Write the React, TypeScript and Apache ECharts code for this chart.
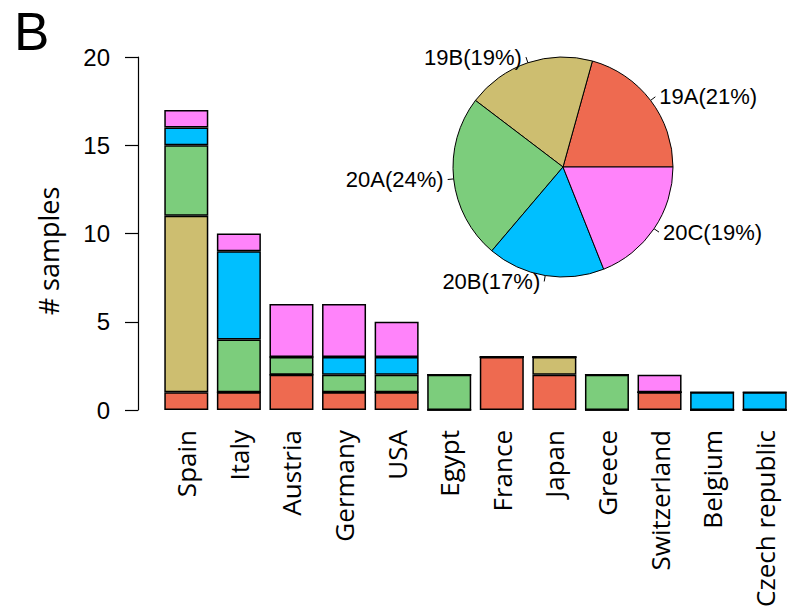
import React, { useEffect, useRef } from "react";
import * as echarts from "echarts";

const countries = [
  "Spain", "Italy", "Austria", "Germany", "USA", "Egypt",
  "France", "Japan", "Greece", "Switzerland", "Belgium", "Czech republic",
];

const clades = ["19A", "19B", "20A", "20B", "20C"];
const cladeColors = ["#EE6A50", "#CDBE70", "#7CCD7C", "#00BFFF", "#FF83FA"];

// samples per country, one array per clade (stacked bottom to top)
const s19A = [1, 1, 2, 1, 1, 0, 3, 2, 0, 1, 0, 0];
const s19B = [10, 0, 0, 0, 0, 0, 0, 1, 0, 0, 0, 0];
const s20A = [4, 3, 1, 1, 1, 2, 0, 0, 2, 0, 0, 0];
const s20B = [1, 5, 0, 1, 1, 0, 0, 0, 0, 0, 1, 1];
const s20C = [1, 1, 3, 3, 2, 0, 0, 0, 0, 1, 0, 0];

const yTicks = [0, 5, 10, 15, 20];

const cladeSeries = [s19A, s19B, s20A, s20B, s20C];

export default function App() {
  const ref = useRef<HTMLDivElement>(null);

  useEffect(() => {
    document.body.style.margin = "0";
    if (!ref.current) return;
    const chart = echarts.init(ref.current, null, { renderer: "svg" });

    const totals = cladeSeries.map((arr) => arr.reduce((a, b) => a + b, 0));
    const grand = totals.reduce((a, b) => a + b, 0);

    const barSeries = cladeSeries.map((arr, i) => ({
      type: "bar",
      name: clades[i],
      stack: "total",
      data: arr,
      barWidth: 44,
      itemStyle: {
        color: cladeColors[i],
        borderColor: "#000",
        borderWidth: 1.5,
      },
      emphasis: { disabled: true },
    }));

    chart.setOption({
      animation: false,
      backgroundColor: "#fff",
      grid: { left: 160, top: 57, width: 636, height: 353 },
      xAxis: {
        type: "category",
        data: countries,
        axisLine: { show: false },
        axisTick: { show: false },
        axisLabel: {
          rotate: 90,
          margin: 20,
          interval: 0,
          color: "#000",
          fontFamily: "Open Sans",
          fontSize: 26,
        },
      },
      yAxis: {
        type: "value",
        min: yTicks[0],
        max: yTicks[yTicks.length - 1],
        interval: 5,
        offset: 22,
        axisLine: { show: true, lineStyle: { color: "#000", width: 1.2 } },
        axisTick: { show: true, length: 13, lineStyle: { color: "#000", width: 1.2 } },
        splitLine: { show: false },
        axisLabel: {
          margin: 28,
          color: "#000",
          fontFamily: "Liberation Sans",
          fontSize: 24,
        },
      },
      series: [
        ...barSeries,
        {
          type: "pie",
          center: [563, 167],
          radius: 110,
          startAngle: 0,
          clockwise: false,
          avoidLabelOverlap: false,
          data: clades.map((c, i) => ({
            name: c,
            value: totals[i],
            itemStyle: { color: cladeColors[i] },
          })),
          itemStyle: { borderColor: "#000", borderWidth: 1 },
          label: {
            show: true,
            position: "outside",
            color: "#000",
            fontFamily: "Liberation Sans",
            fontSize: 22,
            distanceToLabelLine: 4,
            formatter: (p: any) =>
              `${p.name}(${Math.round((p.value / grand) * 100)}%)`,
          },
          labelLine: {
            show: true,
            length: 6,
            length2: 0,
            lineStyle: { color: "#000", width: 1 },
          },
          emphasis: { disabled: true },
        },
      ],
      graphic: [
        {
          type: "text",
          left: 14,
          top: 5,
          style: {
            text: "B",
            fontFamily: "Liberation Sans",
            fontSize: 53,
            fill: "#000",
          },
        },
        {
          type: "text",
          x: 48,
          y: 251,
          rotation: Math.PI / 2,
          style: {
            text: "# samples",
            fontFamily: "Open Sans",
            fontSize: 27,
            fill: "#000",
            align: "center",
            verticalAlign: "middle",
          },
        },
      ],
    });

    return () => chart.dispose();
  }, []);

  return (
    <div
      ref={ref}
      style={{ position: "absolute", left: 0, top: 0, width: 791, height: 613 }}
    />
  );
}
